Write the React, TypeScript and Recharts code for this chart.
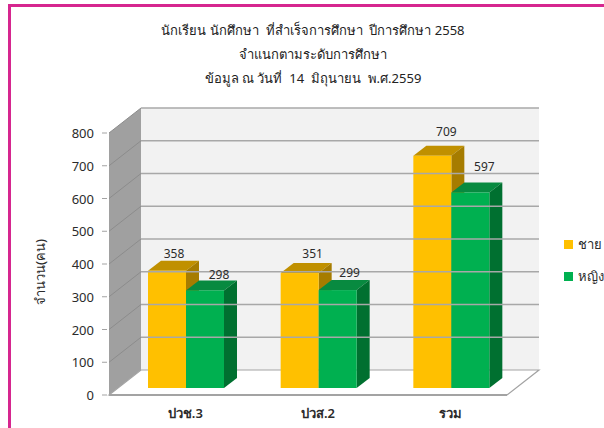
import React from 'react';
import { BarChart, Bar, XAxis, YAxis, Legend, LabelList, ReferenceArea, ReferenceLine } from 'recharts';

const categories = ['ปวช.3', 'ปวส.2', 'รวม'];
const male = [358, 351, 709];
const female = [298, 299, 597];
const yTicks = [0, 100, 200, 300, 400, 500, 600, 700, 800];
const gridValues = [100, 200, 300, 400, 500, 600, 700, 800];
const titleLines = [
  'นักเรียน นักศึกษา  ที่สำเร็จการศึกษา  ปีการศึกษา 2558',
  'จำแนกตามระดับการศึกษา',
  'ข้อมูล ณ วันที่  14  มิถุนายน  พ.ศ.2559',
];
const maleName = 'ชาย';
const femaleName = 'หญิง';
const yLabel = 'จำนวน(คน)';

const data = categories.map((name, i) => ({ name, male: male[i], female: female[i] }));

const FONT = 'Tahoma, "Noto Sans", "DejaVu Sans", sans-serif';
const TEXT = '#2b2b2b';
const WALL_DX = 32;
const WALL_DY = 25;
const BAR_DX = 11;
const BAR_DY = 7;
const DEPTH_X = 13;
const DEPTH_Y = 10;

// manual nudges of the value labels above each bar, as in the reference
const maleLabelShift = [[-7, 20], [-1, 22], [0, 27]];
const femaleLabelShift = [[0, 18], [-2, 20], [0, 28]];

const makeBar = (front: string, top: string, side: string) => (p: any) => {
  const x = p.x + BAR_DX;
  const y = p.y - BAR_DY;
  const w = p.width;
  const h = p.height;
  return (
    <g>
      <polygon points={`${x},${y} ${x + DEPTH_X},${y - DEPTH_Y} ${x + w + DEPTH_X},${y - DEPTH_Y} ${x + w},${y}`} fill={top} />
      <polygon points={`${x + w},${y} ${x + w + DEPTH_X},${y - DEPTH_Y} ${x + w + DEPTH_X},${y + h - DEPTH_Y} ${x + w},${y + h}`} fill={side} />
      <rect x={x} y={y} width={w} height={h} fill={front} />
    </g>
  );
};

const Walls = (p: any) => {
  const { x, y, width, height } = p;
  const b = y + height;
  const r = x + width;
  const gray = '#a3a3a3';
  return (
    <g>
      <polygon points={`${x + WALL_DX},${y - WALL_DY} ${r + WALL_DX},${y - WALL_DY} ${r + WALL_DX},${b - WALL_DY} ${x + WALL_DX},${b - WALL_DY}`} fill="#f2f2f2" />
      <polygon points={`${x},${y} ${x + WALL_DX},${y - WALL_DY} ${x + WALL_DX},${b - WALL_DY} ${x},${b}`} fill="#a0a0a0" />
      <polygon points={`${x},${b} ${x + WALL_DX},${b - WALL_DY} ${r + WALL_DX},${b - WALL_DY} ${r},${b}`} fill="#ffffff" stroke={gray} strokeWidth={1.2} />
      <line x1={x} y1={b} x2={r} y2={b} stroke={gray} strokeWidth={2} />
    </g>
  );
};

const GridLine = (p: any) => {
  const { x1, y1, x2, y2 } = p;
  return (
    <g>
      <line x1={x1} y1={y1} x2={x1 + WALL_DX} y2={y1 - WALL_DY} stroke="#8c8c8c" strokeWidth={1} />
      <line x1={x1 + WALL_DX} y1={y1 - WALL_DY} x2={x2 + WALL_DX} y2={y2 - WALL_DY} stroke="#a8a8a8" strokeWidth={1.5} />
    </g>
  );
};

const XTick = (p: any) => (
  <text x={p.x + 10} y={p.y + 15} textAnchor="middle" fontFamily={FONT} fontSize={13} fontWeight={600} fill={TEXT}>
    {p.payload.value}
  </text>
);

const YTick = (p: any) => (
  <g>
    <line x1={p.x + 1} y1={p.y} x2={p.x + 6} y2={p.y} stroke="#a3a3a3" strokeWidth={1} />
    <text x={p.x - 7} y={p.y + 5} textAnchor="end" fontFamily={FONT} fontSize={13} fill={TEXT}>
      {p.payload.value}
    </text>
  </g>
);

const makeLabel = (shift: number[][]) => (p: any) => {
  const [sx, sy] = shift[p.index] || [0, 20];
  return (
    <text x={p.x + p.width / 2 + BAR_DX + 14 + sx} y={p.y - sy} textAnchor="middle" fontFamily={FONT} fontSize={12} fill={TEXT}>
      {p.value}
    </text>
  );
};

const LegendBox = (p: any) => (
  <div>
    {(p.payload || []).map((e: any) => (
      <div key={e.value} style={{ display: 'flex', alignItems: 'center', height: 32, fontFamily: FONT, fontSize: 13, color: TEXT }}>
        <span style={{ width: 9, height: 9, background: e.color, marginRight: 5, display: 'inline-block' }} />
        {e.value}
      </div>
    ))}
  </div>
);

export default function App() {
  return (
    <div style={{ position: 'absolute', left: 0, top: 0, width: 604, height: 428, background: '#fff', overflow: 'hidden' }}>
      <div style={{ position: 'absolute', left: 8, top: 4, right: 0, bottom: 0, borderLeft: '3px solid #d6268f', borderTop: '3px solid #d6268f' }} />
      {titleLines.map((t, i) => (
        <div key={i} style={{ position: 'absolute', left: 0, width: 626, top: 20 + i * 24, height: 20, lineHeight: '20px', textAlign: 'center', whiteSpace: 'pre', fontFamily: FONT, fontSize: 13, color: '#222' }}>
          {t}
        </div>
      ))}
      <div style={{ position: 'absolute', left: 40, top: 272, width: 0, height: 0 }}>
        <div style={{ position: 'absolute', transform: 'translate(-50%,-50%) rotate(-90deg)', whiteSpace: 'nowrap', fontFamily: FONT, fontSize: 13, fontWeight: 500, color: TEXT }}>{yLabel}</div>
      </div>
      <div style={{ position: 'absolute', left: 0, top: 0 }}>
        <BarChart width={604} height={428} data={data} margin={{ top: 133, right: 50, bottom: 0, left: 49 }} barSize={38} barGap={0}>
          <XAxis dataKey="name" axisLine={false} tickLine={false} height={33} tick={XTick} interval={0} />
          <YAxis width={60} domain={[0, 800]} ticks={yTicks} axisLine={false} tickLine={false} tick={YTick} interval={0} />
          <ReferenceArea y1={0} y2={800} shape={Walls} ifOverflow="visible" />
          {gridValues.map((v) => (
            <ReferenceLine key={v} y={v} shape={GridLine} ifOverflow="visible" />
          ))}
          <Legend layout="vertical" align="right" verticalAlign="top" width={47} content={LegendBox} wrapperStyle={{ position: 'absolute', left: 564, top: 228, right: 'auto', bottom: 'auto' }} />
          <Bar dataKey="male" name={maleName} fill="#ffc000" isAnimationActive={false} shape={makeBar('#ffc000', '#c09000', '#a67c00')}>
            <LabelList dataKey="male" content={makeLabel(maleLabelShift)} />
          </Bar>
          <Bar dataKey="female" name={femaleName} fill="#00b050" isAnimationActive={false} shape={makeBar('#00b050', '#088a40', '#007030')}>
            <LabelList dataKey="female" content={makeLabel(femaleLabelShift)} />
          </Bar>
        </BarChart>
      </div>
    </div>
  );
}
